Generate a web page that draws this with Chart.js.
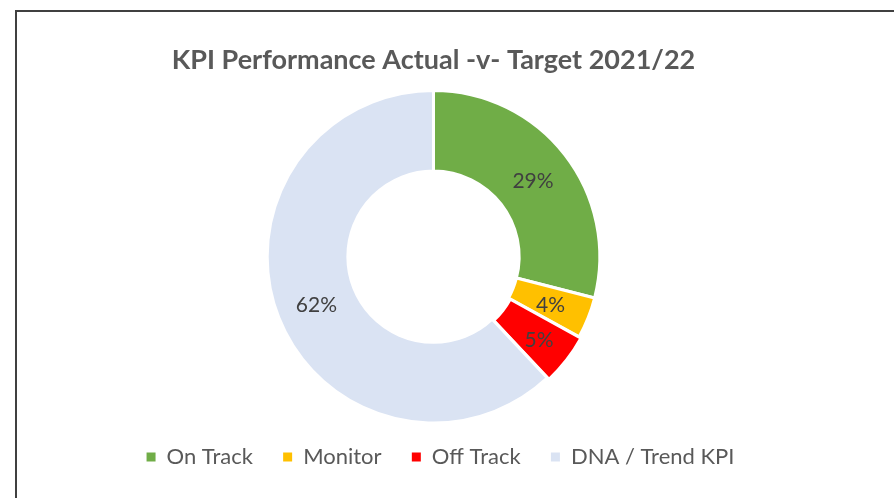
<!DOCTYPE html>
<html>
<head>
<meta charset="utf-8">
<script src="https://cdn.jsdelivr.net/npm/chart.js@4"></script>
<style>
  html, body { margin: 0; padding: 0; background: #ffffff; }
  #wrap { position: relative; width: 894px; height: 498px; overflow: hidden; }
  #frame { position: absolute; left: 15px; top: 10px; width: 1000px; height: 600px;
           border-left: 2px solid #404040; border-top: 2px solid #404040; }
  canvas { position: absolute; left: 0; top: 0; }
</style>
</head>
<body>
<div id="wrap">
  <div id="frame"></div>
  <canvas id="c" width="894" height="498"></canvas>
</div>
<script>
const chartTitle = 'KPI Performance Actual -v- Target 2021/22';
const categories = ['On Track', 'Monitor', 'Off Track', 'DNA / Trend KPI'];
const percentValues = [29, 4, 5, 62];
const sliceColors = ['#70AD47', '#FFC000', '#FF0000', '#DAE3F3'];
const sliceOffsets = [0, 0, 5, 0];

const FONT = 'Lato, "Open Sans", sans-serif';

const labelPlugin = {
  id: 'sliceLabels',
  afterDatasetsDraw(chart) {
    const ctx = chart.ctx;
    const meta = chart.getDatasetMeta(0);
    ctx.save();
    ctx.font = '21px ' + FONT;
    ctx.fillStyle = '#404040';
    ctx.textAlign = 'center';
    ctx.textBaseline = 'middle';
    meta.data.forEach((arc, i) => {
      const p = arc.tooltipPosition();
      const mid = (arc.startAngle + arc.endAngle) / 2;
      const off = sliceOffsets[i] || 0;
      ctx.fillText(percentValues[i] + '%', p.x + Math.cos(mid) * off, p.y + Math.sin(mid) * off + 2);
    });
    ctx.restore();
  }
};

const legendShift = {
  id: 'legendShift',
  afterLayout(chart) {
    if (chart.legend) {
      chart.legend.left += 7;
      chart.legend.right += 7;
    }
  }
};

new Chart(document.getElementById('c'), {
  type: 'doughnut',
  data: {
    labels: categories,
    datasets: [{
      data: percentValues,
      backgroundColor: sliceColors,
      borderColor: '#ffffff',
      borderWidth: 3,
      offset: sliceOffsets,
      hoverOffset: 0
    }]
  },
  options: {
    responsive: false,
    animation: false,
    cutout: '51.5%',
    layout: { padding: { left: 18, right: 45, top: 10, bottom: 20 } },
    plugins: {
      title: {
        display: true,
        text: chartTitle,
        color: '#595959',
        font: { family: FONT, size: 27, weight: 'bold', lineHeight: 1.2 },
        padding: { top: 34, bottom: 10 }
      },
      legend: {
        position: 'bottom',
        labels: {
          color: '#595959',
          font: { family: FONT, size: 22 },
          boxWidth: 9,
          boxHeight: 9,
          padding: 19,
          generateLabels(chart) {
            const items = Chart.overrides.doughnut.plugins.legend.labels.generateLabels(chart);
            items.forEach((it, i) => {
              it.lineWidth = 0;
              if (i < items.length - 1) it.text = it.text + '  ';
            });
            return items;
          }
        }
      },
      tooltip: { enabled: false }
    }
  },
  plugins: [labelPlugin, legendShift]
});
</script>
</body>
</html>
